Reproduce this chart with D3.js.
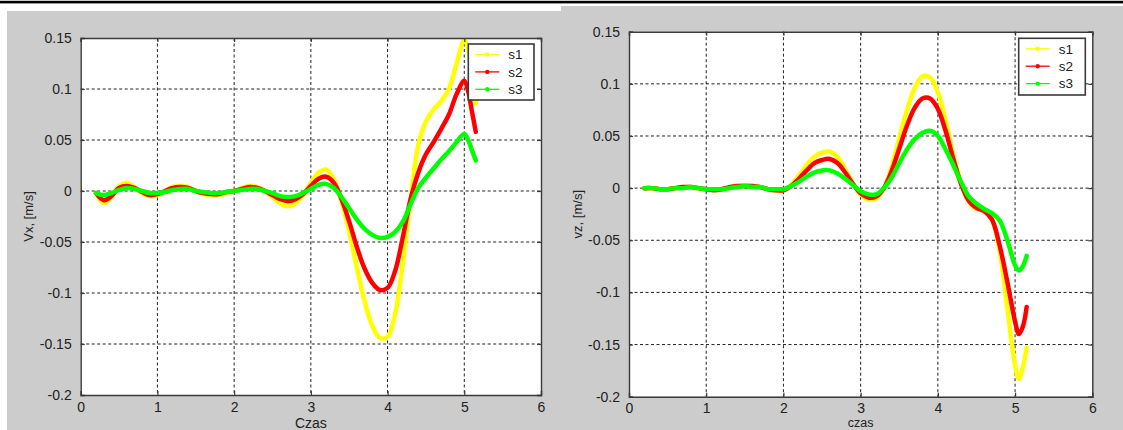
<!DOCTYPE html>
<html>
<head>
<meta charset="utf-8">
<script src="https://cdn.jsdelivr.net/npm/d3@7/dist/d3.min.js"></script>
<style>
  body { margin: 0; background: #fff; }
  svg { display: block; font-family: "Liberation Sans", Arial, sans-serif; }
</style>
</head>
<body>
<div id="chart"></div>
<script>
'use strict';

// time samples [s]
var time = [0.2, 0.3, 0.4, 0.5, 0.6, 0.7, 0.8, 0.9, 1.0, 1.1, 1.2, 1.3, 1.4, 1.5, 1.6, 1.7, 1.8, 1.9,
  2.0, 2.1, 2.2, 2.3, 2.4, 2.5, 2.6, 2.7, 2.8, 2.9, 3.0, 3.1, 3.2, 3.3, 3.4, 3.5, 3.6, 3.7, 3.8, 3.9,
  4.0, 4.1, 4.2, 4.3, 4.4, 4.5, 4.6, 4.7, 4.8, 4.9, 5.0, 5.05, 5.1, 5.15];

// Vx [m/s]
var vxS1 = [-0.002, -0.012, -0.006, 0.005, 0.008, 0.004, -0.002, -0.005, -0.004, 0.000, 0.004, 0.005, 0.004, 0.000, -0.003, -0.004, -0.004, -0.002,
  0.000, 0.003, 0.005, 0.004, 0.000, -0.006, -0.012, -0.015, -0.012, -0.004, 0.008, 0.018, 0.021, 0.012, -0.010, -0.040, -0.075, -0.108, -0.132, -0.144,
  -0.143, -0.120, -0.070, -0.008, 0.045, 0.068, 0.080, 0.088, 0.100, 0.125, 0.148, 0.140, 0.110, 0.086];
var vxS2 = [-0.002, -0.009, -0.005, 0.003, 0.005, 0.003, -0.001, -0.004, -0.003, 0.000, 0.003, 0.004, 0.003, 0.000, -0.002, -0.003, -0.003, -0.001,
  0.000, 0.002, 0.004, 0.003, 0.000, -0.004, -0.008, -0.010, -0.008, -0.003, 0.005, 0.012, 0.014, 0.008, -0.008, -0.030, -0.055, -0.076, -0.090, -0.097,
  -0.095, -0.078, -0.045, -0.008, 0.018, 0.036, 0.048, 0.061, 0.075, 0.095, 0.108, 0.098, 0.078, 0.058];
var vxS3 = [-0.002, -0.004, -0.002, 0.001, 0.003, 0.002, 0.000, -0.002, -0.002, -0.001, 0.001, 0.002, 0.002, 0.000, -0.001, -0.002, -0.002, -0.001,
  0.000, 0.001, 0.002, 0.002, 0.000, -0.002, -0.005, -0.006, -0.005, -0.002, 0.002, 0.006, 0.007, 0.003, -0.006, -0.017, -0.028, -0.037, -0.043, -0.046,
  -0.045, -0.040, -0.030, -0.013, 0.003, 0.013, 0.022, 0.031, 0.039, 0.048, 0.056, 0.050, 0.040, 0.030];

// Vz [m/s]
var vzS1 = [0.000, 0.000, -0.001, -0.001, 0.000, 0.001, 0.001, 0.000, -0.001, -0.002, -0.001, 0.001, 0.002, 0.003, 0.002, 0.001, -0.001, -0.002,
  -0.002, 0.003, 0.012, 0.022, 0.030, 0.034, 0.035, 0.030, 0.018, 0.005, -0.006, -0.011, -0.010, 0.000, 0.020, 0.048, 0.075, 0.096, 0.107, 0.106,
  0.092, 0.065, 0.032, 0.005, -0.013, -0.020, -0.022, -0.030, -0.060, -0.115, -0.170, -0.183, -0.172, -0.153];
var vzS2 = [0.000, 0.000, -0.001, -0.001, 0.000, 0.001, 0.001, 0.000, -0.001, -0.002, -0.001, 0.001, 0.002, 0.002, 0.002, 0.001, -0.001, -0.002,
  -0.002, 0.002, 0.009, 0.017, 0.024, 0.027, 0.028, 0.024, 0.015, 0.004, -0.005, -0.009, -0.008, 0.000, 0.016, 0.038, 0.060, 0.077, 0.086, 0.086,
  0.076, 0.055, 0.028, 0.004, -0.012, -0.019, -0.022, -0.030, -0.055, -0.090, -0.128, -0.140, -0.133, -0.114];
var vzS3 = [0.000, 0.000, -0.001, -0.001, 0.000, 0.000, 0.001, 0.000, -0.001, -0.001, -0.001, 0.000, 0.001, 0.002, 0.001, 0.001, -0.001, -0.001,
  -0.001, 0.002, 0.006, 0.011, 0.015, 0.017, 0.017, 0.014, 0.009, 0.003, -0.003, -0.006, -0.006, 0.000, 0.010, 0.024, 0.037, 0.047, 0.053, 0.055,
  0.050, 0.037, 0.022, 0.006, -0.008, -0.015, -0.020, -0.024, -0.031, -0.050, -0.074, -0.079, -0.075, -0.065];

var seriesNames = ['s1', 's2', 's3'];
var seriesColors = ['#ffff00', '#ff0000', '#00ff00'];
var xTicks = [0, 1, 2, 3, 4, 5, 6];
var yTicks = [-0.2, -0.15, -0.1, -0.05, 0, 0.05, 0.1, 0.15];

var W = 1123, H = 430;

var svg = d3.select('#chart')
  .append('svg')
  .attr('width', W)
  .attr('height', H);

// page background pieces
svg.append('rect').attr('x', 0).attr('y', 0).attr('width', W).attr('height', H).attr('fill', '#fff');
svg.append('rect').attr('x', 0).attr('y', 0.8).attr('width', W).attr('height', 2.6).attr('fill', '#000');
svg.append('rect').attr('x', 7).attr('y', 11).attr('width', 554).attr('height', H - 11).attr('fill', '#cccccc');
svg.append('rect').attr('x', 561).attr('y', 6).attr('width', W - 561).attr('height', H - 6).attr('fill', '#cccccc');

function fmt(v) {
  return String(+v.toFixed(2));
}

function drawPanel(cfg) {
  var x = d3.scaleLinear().domain([0, 6]).range([cfg.left, cfg.right]);
  var y = d3.scaleLinear().domain([-0.2, 0.15]).range([cfg.bottom, cfg.top]);
  var g = svg.append('g');

  g.append('rect')
    .attr('x', cfg.left).attr('y', cfg.top)
    .attr('width', cfg.right - cfg.left).attr('height', cfg.bottom - cfg.top)
    .attr('fill', '#fff');

  // grid
  g.selectAll('.gx').data(xTicks.slice(1, -1)).enter().append('line')
    .attr('x1', function(d) { return x(d); }).attr('x2', function(d) { return x(d); })
    .attr('y1', cfg.top).attr('y2', cfg.bottom)
    .attr('stroke', '#222').attr('stroke-width', 1).attr('stroke-dasharray', '3,2.5');
  g.selectAll('.gy').data(yTicks.slice(1, -1)).enter().append('line')
    .attr('y1', function(d) { return y(d); }).attr('y2', function(d) { return y(d); })
    .attr('x1', cfg.left).attr('x2', cfg.right)
    .attr('stroke', '#222').attr('stroke-width', 1).attr('stroke-dasharray', '3,2.5');

  // data lines
  var clipId = 'clip' + cfg.id;
  g.append('clipPath').attr('id', clipId).append('rect')
    .attr('x', cfg.left).attr('y', cfg.top - 3)
    .attr('width', cfg.right - cfg.left).attr('height', cfg.bottom - cfg.top + 3);

  var line = d3.line()
    .x(function(d) { return x(d[0]); })
    .y(function(d) { return y(d[1]); })
    .curve(d3.curveCatmullRom);

  cfg.series.forEach(function(vals, i) {
    var pts = time.map(function(t, k) { return [t, vals[k]]; });
    g.append('path')
      .datum(pts)
      .attr('clip-path', 'url(#' + clipId + ')')
      .attr('fill', 'none')
      .attr('stroke', seriesColors[i])
      .attr('stroke-width', 4.5)
      .attr('stroke-linejoin', 'round')
      .attr('stroke-linecap', 'round')
      .attr('d', line);
  });

  // axes (MATLAB style: ticks inward on all sides)
  var axBottom = d3.axisBottom(x).tickValues(xTicks).tickSize(-4).tickPadding(cfg.xPad).tickFormat(d3.format('d'));
  var axTop = d3.axisTop(x).tickValues(xTicks).tickSize(-4).tickFormat('');
  var axLeft = d3.axisLeft(y).tickValues(yTicks).tickSize(-4).tickPadding(9).tickFormat(fmt);
  var axRight = d3.axisRight(y).tickValues(yTicks).tickSize(-4).tickFormat('');

  [[axBottom, 'translate(0,' + cfg.bottom + ')'],
   [axTop, 'translate(0,' + cfg.top + ')'],
   [axLeft, 'translate(' + cfg.left + ',0)'],
   [axRight, 'translate(' + cfg.right + ',0)']].forEach(function(a) {
    var ag = g.append('g').attr('transform', a[1]).call(a[0]);
    ag.select('.domain').attr('stroke', '#3a3a3a').attr('stroke-width', 1.4);
    ag.selectAll('.tick line').attr('stroke', '#3a3a3a').attr('stroke-width', 1.2);
    ag.selectAll('text')
      .attr('fill', '#222')
      .style('font-size', '14px')
      .style('font-family', '"Liberation Sans", Arial, sans-serif');
  });

  // axis titles
  g.append('text')
    .attr('x', (cfg.left + cfg.right) / 2)
    .attr('y', cfg.xTitleY)
    .attr('text-anchor', 'middle')
    .attr('fill', '#222')
    .style('font-size', cfg.xTitleSize)
    .text(cfg.xTitle);

  g.append('text')
    .attr('transform', 'translate(' + cfg.yTitleX + ',' + ((cfg.top + cfg.bottom) / 2) + ') rotate(-90)')
    .attr('text-anchor', 'middle')
    .attr('fill', '#222')
    .style('font-size', '13px')
    .text(cfg.yTitle);

  // legend
  var lg = g.append('g');
  lg.append('rect')
    .attr('x', cfg.legend.x).attr('y', cfg.legend.y)
    .attr('width', cfg.legend.w).attr('height', cfg.legend.h)
    .attr('fill', '#fff').attr('stroke', '#3a3a3a').attr('stroke-width', 1.6);
  seriesNames.forEach(function(name, i) {
    var ly = cfg.legend.y + 10.5 + i * 17.4;
    var lx = cfg.legend.x + 7;
    lg.append('line')
      .attr('x1', lx).attr('x2', lx + 24).attr('y1', ly).attr('y2', ly)
      .attr('stroke', seriesColors[i]).attr('stroke-width', 1.3);
    lg.append('circle')
      .attr('cx', lx + 12).attr('cy', ly).attr('r', 2.2)
      .attr('fill', seriesColors[i]);
    lg.append('text')
      .attr('x', lx + 33).attr('y', ly + 4.8)
      .attr('fill', '#222')
      .style('font-size', '13.5px')
      .text(name);
  });
}

drawPanel({
  id: 'vx', left: 80.7, right: 541, top: 38, bottom: 395,
  series: [vxS1, vxS2, vxS3],
  xPad: 7,
  xTitle: 'Czas', xTitleY: 428, xTitleSize: '14px',
  yTitle: 'Vx, [m/s]', yTitleX: 33,
  legend: {x: 468.3, y: 44, w: 65.7, h: 56}
});

drawPanel({
  id: 'vz', left: 629, right: 1092.3, top: 31.7, bottom: 396.7,
  series: [vzS1, vzS2, vzS3],
  xPad: 6,
  xTitle: 'czas', xTitleY: 427, xTitleSize: '12.5px',
  yTitle: 'vz, [m/s]', yTitleX: 582,
  legend: {x: 1018.7, y: 38.3, w: 66.6, h: 56.7}
});
</script>
</body>
</html>
